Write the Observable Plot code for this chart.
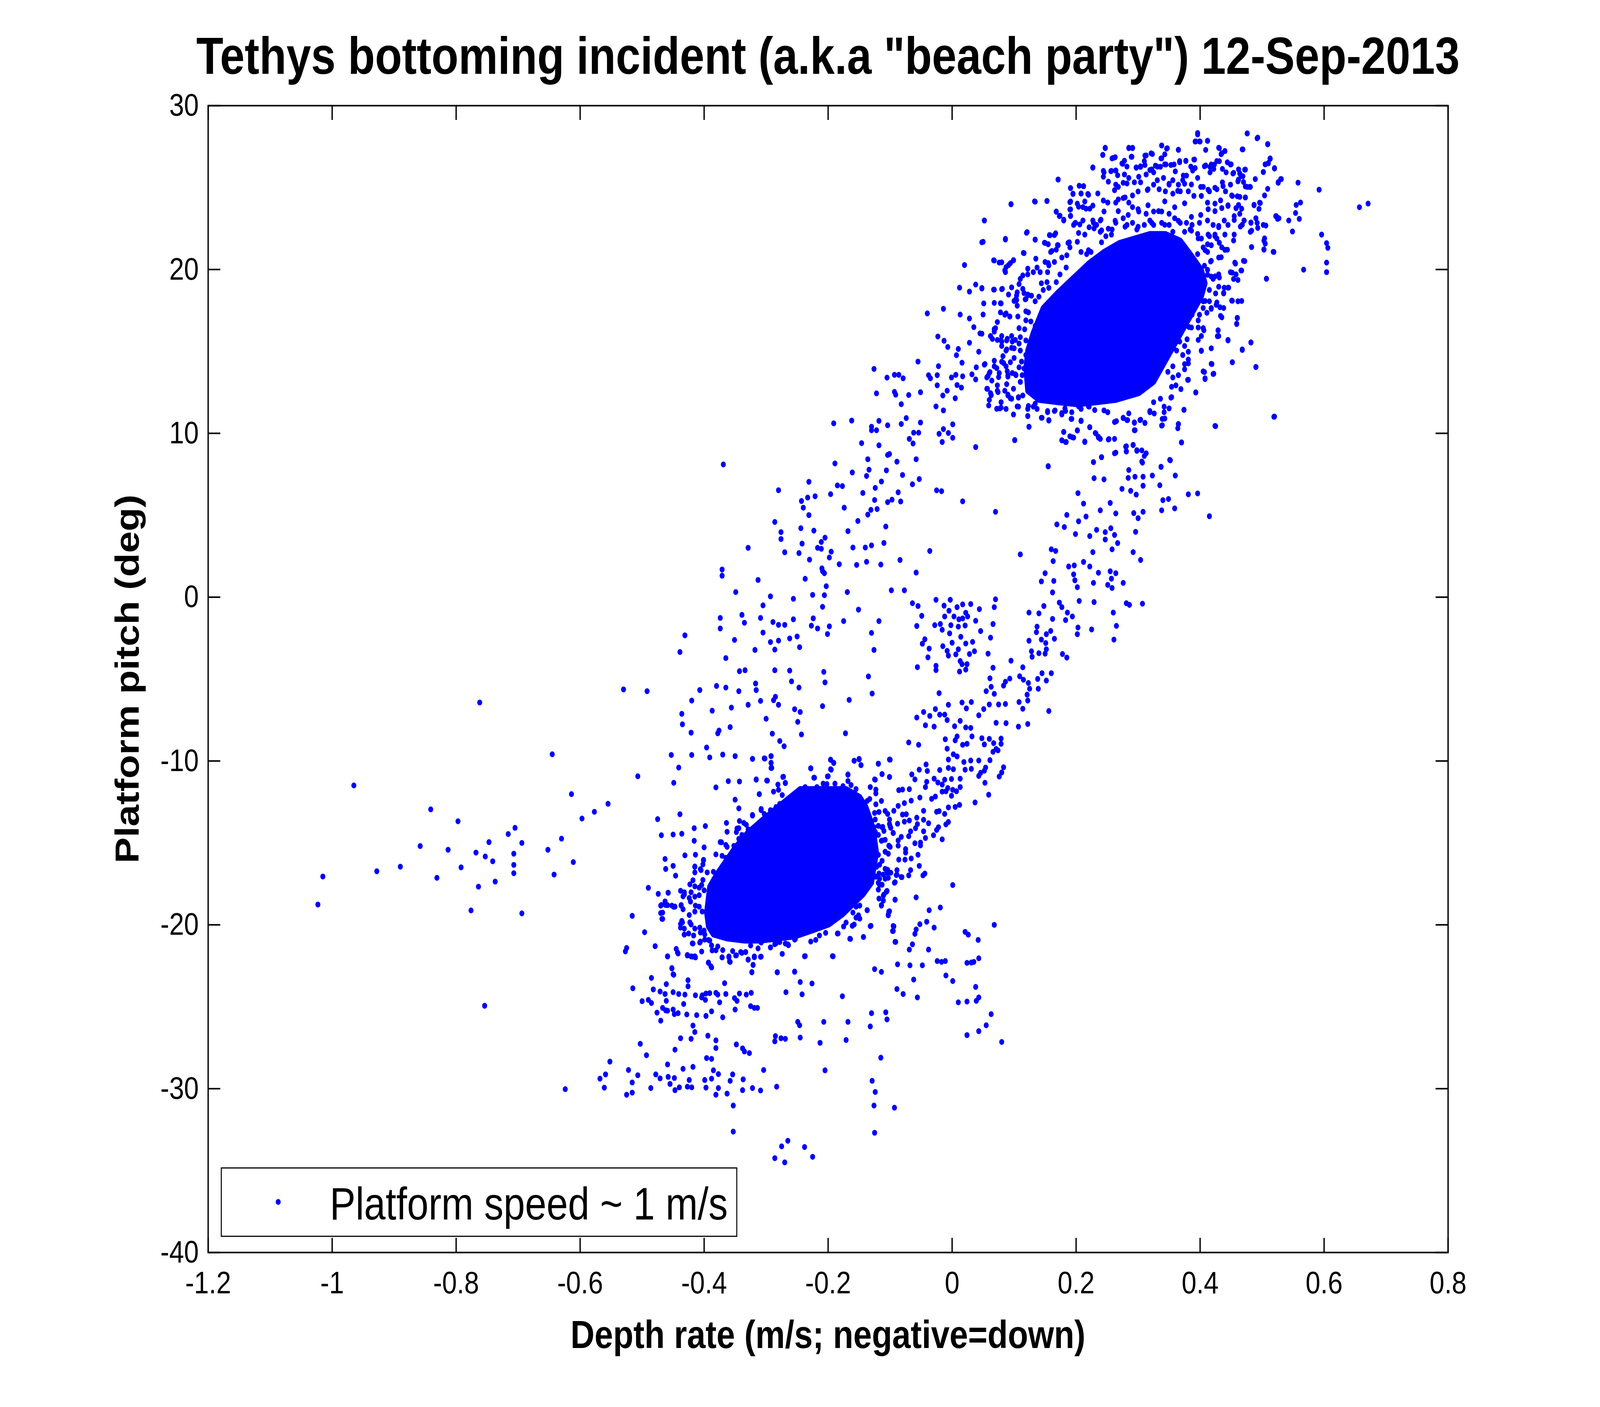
<!DOCTYPE html>
<html>
<head>
<meta charset="utf-8">
<script src="https://cdn.jsdelivr.net/npm/d3@7"></script>
<script src="https://cdn.jsdelivr.net/npm/@observablehq/plot@0.6"></script>
<style>
html, body { margin: 0; padding: 0; background: #ffffff; overflow: hidden; width: 100vw; height: 100vh; }
#chart { width: 100vw; height: 100vh; }
#chart svg { display: block; width: 100vw !important; height: 100vh !important; max-width: none !important; }
</style>
</head>
<body>
<div id="chart"></div>
<script>
// ---------- labels ----------
const titleText = 'Tethys bottoming incident (a.k.a "beach party") 12-Sep-2013';
const xLabel = "Depth rate (m/s; negative=down)";
const yLabel = "Platform pitch (deg)";
const legendLabel = "Platform speed ~ 1 m/s";

// ---------- axes ----------
const xTicks = [-1.2, -1, -0.8, -0.6, -0.4, -0.2, 0, 0.2, 0.4, 0.6, 0.8];
const yTicks = [-40, -30, -20, -10, 0, 10, 20, 30];

// ---------- dense cores (outline of the solid blobs) ----------
const lowCore = [[-0.245,-11.71],[-0.199,-11.83],[-0.171,-11.71],[-0.149,-12.20],[-0.139,-12.81],[-0.130,-13.78],[-0.125,-14.75],[-0.122,-15.60],[-0.128,-16.82],[-0.130,-17.43],[-0.144,-18.16],[-0.158,-18.65],[-0.177,-19.37],[-0.199,-19.98],[-0.226,-20.35],[-0.254,-20.71],[-0.281,-20.83],[-0.308,-20.96],[-0.336,-20.96],[-0.363,-20.83],[-0.385,-20.59],[-0.393,-20.10],[-0.396,-19.25],[-0.393,-18.40],[-0.391,-17.67],[-0.380,-16.94],[-0.363,-16.09],[-0.349,-15.24],[-0.330,-14.39],[-0.308,-13.66],[-0.286,-13.05],[-0.265,-12.32]];
const highCore = [[0.140,16.97],[0.147,17.65],[0.171,18.61],[0.196,19.43],[0.221,20.39],[0.245,21.07],[0.270,21.62],[0.294,21.89],[0.319,22.17],[0.344,22.17],[0.368,21.76],[0.387,20.80],[0.402,19.98],[0.408,19.16],[0.402,18.34],[0.387,17.65],[0.372,16.97],[0.350,16.15],[0.341,15.33],[0.338,14.23],[0.325,13.14],[0.301,12.45],[0.264,12.04],[0.233,11.90],[0.202,11.77],[0.171,11.90],[0.140,12.04],[0.122,12.59],[0.119,13.96],[0.122,15.05],[0.131,16.15]];

// ---------- scattered samples ----------
const farLeft = [[-0.965,-11.49],[-0.841,-12.95],[-0.797,-13.68],[-0.858,-15.19],[-0.813,-15.42],[-0.768,-15.59],[-0.890,-16.45],[-0.928,-16.73],[-0.792,-16.49],[-1.015,-17.05],[-0.831,-17.13],[-0.764,-17.67],[-1.023,-18.76],[-0.776,-19.12],[-0.762,-6.43]];

const lowerTop = [[-0.343,-4.52],[-0.334,-4.46],[-0.286,-4.46],[-0.262,-4.48],[-0.207,-4.56],[-0.135,-4.84],[-0.530,-5.63],[-0.492,-5.74],[-0.407,-5.67],[-0.380,-5.42],[-0.365,-5.52],[-0.344,-5.74],[-0.317,-5.27],[-0.316,-5.67],[-0.247,-5.52],[-0.259,-5.14],[-0.205,-5.20],[-0.129,-5.88],[-0.166,-6.27],[-0.309,-6.33],[-0.285,-6.08],[-0.288,-6.29],[-0.280,-6.57],[-0.329,-6.57],[-0.420,-6.31],[-0.387,-6.93],[-0.356,-6.74],[-0.254,-6.84],[-0.245,-7.01],[-0.209,-6.65],[-0.300,-7.42],[-0.436,-7.12],[-0.435,-7.76],[-0.358,-7.93],[-0.249,-7.61],[-0.421,-8.27],[-0.378,-8.31],[-0.376,-8.14],[-0.290,-8.33],[-0.243,-8.38],[-0.172,-8.31],[-0.278,-8.78],[-0.271,-9.10],[-0.396,-9.18],[-0.645,-9.59],[-0.453,-9.63],[-0.420,-9.63],[-0.391,-9.78],[-0.370,-9.61],[-0.350,-9.70],[-0.322,-9.87],[-0.303,-9.84],[-0.292,-9.70],[-0.292,-10.12],[-0.291,-10.42],[-0.441,-10.40],[-0.196,-9.93],[-0.191,-10.12],[-0.158,-9.99],[-0.150,-9.87],[-0.147,-10.25],[-0.119,-10.16],[-0.101,-9.91],[-0.228,-10.44],[-0.196,-10.50],[-0.113,-10.80],[-0.101,-10.97],[-0.507,-10.93],[-0.449,-11.33],[-0.361,-11.23],[-0.343,-11.25],[-0.316,-11.12],[-0.299,-11.19],[-0.381,-11.61],[-0.273,-10.97],[-0.269,-11.33],[-0.223,-11.02],[-0.200,-10.93],[-0.168,-10.82],[-0.125,-11.12],[-0.311,-12.02],[-0.308,-13.0],[-0.322,-13.29],[-0.332,-13.89],[-0.344,-14.10],[-0.363,-14.32]];

const lowerRight = [[-0.056,-4.27],[-0.036,-7.25],[-0.043,-7.82],[-0.046,-7.01],[-0.057,-7.35],[0.032,-8.50],[0.060,-8.65],[0.067,-8.91],[0.048,-8.61],[0.052,-8.99],[0.079,-8.63],[0.079,-8.95],[0.071,-9.27],[0.066,-9.44],[0.074,-9.35],[-0.011,-8.67],[0.008,-8.50],[0.005,-8.74],[0.017,-9.01],[0.024,-8.95],[-0.008,-9.25],[0.002,-9.59],[0.008,-9.72],[0.019,-10.06],[0.030,-9.97],[0.043,-9.97],[0.061,-9.95],[0.083,-10.38],[0.080,-10.70],[0.076,-10.95],[0.053,-11.33],[0.059,-12.06],[0.037,-12.53],[0.054,-10.40],[0.052,-10.59],[0.046,-10.72],[0.043,-10.91],[0.031,-10.48],[0.021,-10.53],[-0.006,-10.42],[0.002,-10.50],[-0.006,-9.91],[-0.020,-10.55],[-0.029,-11.08],[-0.023,-11.31],[-0.016,-11.44],[-0.012,-11.14],[-0.001,-11.10],[0.013,-11.08],[0.013,-11.59],[-0.007,-11.65],[-0.010,-11.85],[0.001,-11.76],[0.007,-11.85],[-0.001,-12.12],[-0.006,-12.83],[0.005,-12.80],[0.012,-12.68],[-0.016,-11.87],[-0.027,-12.17],[-0.040,-10.61],[-0.042,-10.21],[-0.053,-10.53],[-0.065,-10.82],[-0.060,-11.12],[-0.069,-11.72],[-0.041,-11.27],[-0.043,-11.59],[-0.033,-12.31],[-0.021,-13.06],[-0.025,-13.10],[-0.012,-13.23],[-0.052,-12.23],[-0.066,-12.42],[-0.077,-12.57],[-0.080,-11.74],[-0.086,-11.78],[-0.070,-8.87],[-0.054,-9.01],[-0.087,-12.74],[-0.094,-13.04],[-0.080,-13.27],[-0.074,-13.25],[-0.101,-13.57],[-0.088,-13.83],[-0.077,-13.70],[-0.069,-13.63],[-0.057,-13.46],[-0.046,-13.04],[-0.046,-13.59],[-0.038,-13.80],[-0.056,-13.85],[-0.059,-14.10],[-0.046,-14.29],[-0.022,-14.04],[-0.010,-13.87],[-0.006,-13.72],[-0.025,-14.21],[-0.030,-14.53],[-0.016,-14.78],[-0.043,-14.70],[-0.051,-14.98],[-0.051,-15.15],[-0.060,-15.02],[-0.067,-14.29],[-0.070,-14.59],[-0.082,-14.63],[-0.087,-14.85],[-0.095,-14.40],[-0.100,-13.99],[-0.110,-14.27],[-0.113,-14.04],[-0.126,-14.04],[-0.124,-14.32],[-0.113,-14.85],[-0.102,-15.17],[-0.087,-15.17],[-0.075,-15.38],[-0.075,-15.59],[-0.086,-16.02],[-0.076,-16.02],[-0.066,-15.95],[-0.055,-15.72],[-0.053,-16.40],[-0.067,-16.66],[-0.070,-16.98],[-0.082,-17.08],[-0.090,-16.96],[-0.092,-17.40],[-0.111,-16.93],[-0.105,-16.83],[-0.103,-17.13],[-0.118,-16.87],[-0.117,-17.55],[-0.110,-18.15],[-0.118,-18.40],[-0.114,-18.79],[-0.105,-17.93],[-0.101,-19.17],[-0.103,-19.42],[-0.092,-18.47],[-0.089,-16.66],[-0.044,-16.87],[-0.047,-16.98],[0.001,-17.57],[-0.058,-18.32],[-0.037,-19.11],[-0.019,-18.94],[0.068,-20.00],[-0.052,-19.96],[-0.041,-19.81],[-0.029,-20.17],[-0.058,-20.28],[-0.060,-20.55],[-0.094,-20.09],[-0.096,-20.38],[-0.092,-21.04],[-0.064,-21.19],[-0.069,-21.51],[-0.038,-21.51],[0.021,-20.43],[0.026,-20.60],[0.042,-20.92],[0.043,-22.04],[-0.024,-22.21],[-0.017,-22.26],[-0.011,-22.21],[0.024,-22.32],[0.031,-22.30],[0.035,-22.26],[-0.010,-23.09],[0.001,-23.43],[0.038,-23.79],[-0.088,-22.41],[-0.068,-22.47],[-0.048,-22.47],[-0.062,-23.34],[-0.089,-23.92],[-0.079,-24.22],[-0.056,-24.43],[-0.125,-22.70],[-0.114,-22.87],[-0.131,-20.06],[-0.137,-19.11],[-0.143,-20.74],[-0.165,-20.85],[-0.177,-24.36],[0.010,-24.73],[0.024,-24.68],[0.039,-24.64],[0.043,-24.43],[0.063,-25.45],[0.080,-27.15],[0.055,-26.13],[0.043,-26.49],[0.024,-26.73],[-0.130,-25.39],[-0.132,-26.20],[-0.107,-25.34],[-0.105,-25.77],[-0.115,-28.11],[-0.129,-29.52],[-0.124,-30.20],[-0.126,-31.03],[-0.093,-31.16],[-0.125,-32.69],[-0.168,-25.92],[-0.171,-27.03],[-0.205,-28.88],[-0.213,-27.20],[-0.207,-25.92],[-0.249,-25.92],[-0.246,-26.13],[-0.245,-26.88],[-0.226,-23.58],[-0.245,-23.49],[-0.242,-24.24],[-0.254,-22.85],[-0.268,-24.11],[-0.282,-22.90],[-0.238,-21.92],[-0.192,-21.92],[-0.285,-26.79],[-0.286,-27.11],[-0.276,-26.92],[-0.269,-26.96],[-0.283,-29.88],[-0.304,-28.86],[-0.353,-31.03],[-0.353,-32.62],[-0.286,-34.24],[-0.275,-33.52],[-0.265,-33.18],[-0.270,-34.50],[-0.238,-33.56],[-0.225,-34.16],[-0.274,-21.77],[-0.220,-20.92],[-0.204,-20.49],[-0.184,-20.53],[-0.161,-20.06],[-0.151,-19.42]];

const lowerFan = [[-0.747,-14.95],[-0.716,-14.46],[-0.705,-14.08],[-0.694,-15.00],[-0.707,-15.66],[-0.707,-16.34],[-0.707,-16.85],[-0.741,-16.12],[-0.753,-15.83],[-0.737,-17.36],[-0.694,-19.30],[-0.652,-15.42],[-0.630,-14.74],[-0.642,-16.93],[-0.611,-16.17],[-0.614,-12.02],[-0.597,-13.51],[-0.577,-13.10],[-0.555,-12.61],[-0.754,-24.94],[-0.475,-13.55],[-0.469,-14.53],[-0.450,-14.49],[-0.436,-14.44],[-0.439,-13.25],[-0.463,-15.98],[-0.462,-16.59],[-0.450,-16.40],[-0.446,-17.0],[-0.431,-15.76],[-0.414,-15.72],[-0.416,-14.10],[-0.398,-13.97],[-0.416,-14.87],[-0.400,-15.27],[-0.415,-16.44],[-0.405,-16.66],[-0.401,-16.06],[-0.381,-15.70],[-0.374,-14.95],[-0.364,-13.78],[-0.350,-12.36],[-0.344,-12.89],[-0.490,-17.74],[-0.474,-18.11],[-0.458,-18.04],[-0.469,-18.79],[-0.462,-18.79],[-0.452,-18.83],[-0.447,-18.89],[-0.467,-19.25],[-0.467,-19.64],[-0.516,-19.45],[-0.496,-20.45],[-0.479,-21.30],[-0.525,-21.41],[-0.527,-21.62],[-0.437,-18.79],[-0.432,-18.15],[-0.424,-18.36],[-0.435,-19.85],[-0.438,-20.17],[-0.432,-20.60],[-0.423,-19.85],[-0.419,-21.13],[-0.406,-21.02],[-0.393,-20.92],[-0.381,-21.55],[-0.371,-21.98],[-0.360,-21.98],[-0.359,-22.24],[-0.349,-21.87],[-0.341,-21.66],[-0.333,-21.66],[-0.329,-22.13],[-0.321,-22.45],[-0.323,-22.90],[-0.319,-21.98],[-0.308,-21.94],[-0.293,-21.38],[-0.284,-21.13],[-0.265,-21.19],[-0.253,-20.87],[-0.443,-21.68],[-0.459,-21.92],[-0.427,-21.87],[-0.419,-21.94],[-0.415,-21.92],[-0.393,-22.32],[-0.389,-22.53],[-0.452,-22.64],[-0.450,-23.02],[-0.485,-23.24],[-0.515,-23.87],[-0.461,-23.62],[-0.463,-24.22],[-0.450,-24.11],[-0.441,-24.22],[-0.431,-24.26],[-0.426,-23.75],[-0.426,-23.38],[-0.482,-23.94],[-0.471,-24.07],[-0.367,-23.56],[-0.343,-24.19],[-0.332,-24.26],[-0.324,-24.15],[-0.414,-24.30],[-0.403,-24.30],[-0.397,-24.19],[-0.391,-24.17],[-0.381,-24.15],[-0.378,-24.26],[-0.365,-24.22],[-0.351,-24.47],[-0.347,-24.64],[-0.398,-24.58],[-0.375,-24.73],[-0.404,-24.43],[-0.500,-24.66],[-0.490,-24.58],[-0.485,-24.77],[-0.476,-25.36],[-0.461,-24.64],[-0.467,-25.07],[-0.462,-25.22],[-0.459,-25.24],[-0.450,-25.17],[-0.448,-25.45],[-0.428,-25.47],[-0.433,-24.83],[-0.412,-25.51],[-0.397,-25.56],[-0.388,-25.28],[-0.370,-25.64],[-0.350,-25.17],[-0.325,-24.96],[-0.319,-25.07],[-0.314,-25.07],[-0.470,-25.85],[-0.442,-25.39],[-0.418,-26.15],[-0.415,-26.54],[-0.438,-26.92],[-0.421,-26.96],[-0.394,-26.77],[-0.381,-27.05],[-0.381,-27.52],[-0.348,-27.30],[-0.338,-27.54],[-0.335,-27.73],[-0.327,-27.83],[-0.396,-28.13],[-0.388,-28.18],[-0.503,-27.26],[-0.493,-27.96],[-0.447,-27.62],[-0.459,-28.52],[-0.434,-28.79],[-0.418,-28.67],[-0.552,-28.35],[-0.522,-28.86],[-0.559,-29.13],[-0.568,-29.39],[-0.561,-29.94],[-0.507,-29.18],[-0.516,-29.62],[-0.516,-30.24],[-0.525,-30.37],[-0.478,-29.13],[-0.471,-29.37],[-0.458,-29.28],[-0.448,-29.35],[-0.455,-29.71],[-0.447,-30.09],[-0.440,-29.92],[-0.427,-29.88],[-0.424,-29.47],[-0.420,-29.92],[-0.486,-29.96],[-0.399,-29.47],[-0.397,-29.94],[-0.388,-29.39],[-0.385,-28.88],[-0.377,-29.11],[-0.377,-29.96],[-0.381,-30.37],[-0.363,-30.30],[-0.358,-29.52],[-0.354,-29.13],[-0.337,-29.43],[-0.338,-30.09],[-0.322,-29.96],[-0.309,-30.11],[-0.624,-30.03]];

const lowFringe = [[-0.196,-9.92],[-0.191,-10.11],[-0.195,-10.53],[-0.201,-10.94],[-0.222,-11.02],[-0.228,-10.45],[-0.158,-9.98],[-0.150,-9.90],[-0.147,-10.25],[-0.168,-10.84],[-0.168,-11.22],[-0.208,-11.38],[-0.202,-11.41],[-0.189,-11.38],[-0.176,-11.53],[-0.163,-11.47],[-0.155,-11.71],[-0.132,-11.59],[-0.123,-11.75],[-0.123,-11.98],[-0.124,-11.14],[-0.119,-10.17],[-0.113,-10.80],[-0.101,-10.98],[-0.100,-9.92],[-0.237,-11.59],[-0.218,-11.59],[-0.272,-10.96],[-0.269,-11.35],[-0.281,-11.44],[-0.280,-11.76],[-0.288,-11.87],[-0.274,-12.08],[-0.311,-12.02],[-0.298,-11.20],[-0.316,-11.14],[-0.292,-9.70],[-0.292,-10.11],[-0.292,-10.43],[-0.302,-9.85],[-0.322,-9.87],[-0.278,-12.62],[-0.284,-12.81],[-0.293,-13.00],[-0.284,-13.38],[-0.308,-12.93],[-0.303,-13.23],[-0.322,-13.33],[-0.343,-13.66],[-0.336,-13.78],[-0.329,-14.17],[-0.323,-14.28],[-0.347,-14.12],[-0.348,-14.34],[-0.339,-14.51],[-0.344,-14.75],[-0.352,-15.18],[-0.363,-15.24],[-0.372,-14.96],[-0.365,-15.12],[-0.371,-15.79],[-0.365,-15.91],[-0.354,-15.54],[-0.370,-16.39],[-0.373,-16.88],[-0.385,-16.76],[-0.395,-16.80],[-0.401,-16.03],[-0.402,-16.31],[-0.406,-16.60],[-0.415,-16.46],[-0.415,-16.80],[-0.402,-17.26],[-0.418,-17.28],[-0.423,-17.53],[-0.415,-17.65],[-0.408,-17.73],[-0.404,-17.57],[-0.400,-17.89],[-0.408,-18.19],[-0.415,-18.28],[-0.421,-18.01],[-0.438,-17.92],[-0.432,-18.01],[-0.434,-18.26],[-0.458,-18.04],[-0.463,-18.57],[-0.470,-18.83],[-0.459,-18.80],[-0.449,-18.90],[-0.437,-18.83],[-0.434,-19.05],[-0.422,-18.58],[-0.414,-18.83],[-0.408,-18.89],[-0.403,-19.19],[-0.424,-19.40],[-0.415,-19.19],[-0.470,-19.28],[-0.468,-19.64],[-0.436,-19.76],[-0.438,-19.95],[-0.432,-20.23],[-0.432,-20.59],[-0.425,-20.53],[-0.421,-19.98],[-0.415,-20.23],[-0.407,-20.17],[-0.406,-20.47],[-0.400,-20.35],[-0.399,-20.59],[-0.417,-20.65],[-0.418,-21.14],[-0.407,-21.08],[-0.399,-20.90],[-0.391,-20.96],[-0.388,-21.26],[-0.378,-21.32],[-0.387,-21.56],[-0.370,-21.54],[-0.371,-21.99],[-0.360,-21.93],[-0.358,-22.26],[-0.354,-21.60],[-0.348,-21.86],[-0.339,-21.71],[-0.333,-21.66],[-0.329,-22.11],[-0.321,-22.44],[-0.323,-22.88],[-0.319,-21.93],[-0.309,-21.95],[-0.313,-21.44],[-0.325,-21.26],[-0.308,-21.08],[-0.293,-21.38],[-0.286,-21.18],[-0.278,-21.05],[-0.269,-21.14],[-0.264,-21.24],[-0.254,-20.90],[-0.237,-21.91],[-0.228,-21.02],[-0.214,-20.65],[-0.185,-20.53],[-0.164,-20.86],[-0.143,-20.74],[-0.132,-20.08],[-0.158,-19.98],[-0.171,-19.86],[-0.175,-20.10],[-0.149,-19.62],[-0.155,-19.56],[-0.137,-19.10],[-0.160,-19.25],[-0.155,-18.89],[-0.149,-18.83],[-0.393,-22.30],[-0.388,-22.60],[-0.404,-21.63],[-0.427,-21.84],[-0.421,-21.93],[-0.414,-21.99],[-0.445,-21.47],[-0.442,-21.75],[-0.459,-21.93],[-0.452,-22.66],[-0.449,-23.05],[-0.193,-21.91],[-0.254,-22.87],[-0.282,-22.89],[-0.114,-12.44],[-0.123,-12.64],[-0.133,-12.32],[-0.137,-12.44],[-0.118,-13.11],[-0.108,-13.05],[-0.104,-13.23],[-0.125,-13.17],[-0.124,-13.57],[-0.119,-13.96],[-0.112,-14.02],[-0.101,-13.84],[-0.099,-14.08],[-0.095,-14.39],[-0.119,-14.51],[-0.114,-14.87],[-0.108,-14.81],[-0.100,-15.24],[-0.103,-15.66],[-0.108,-15.54],[-0.119,-15.73],[-0.113,-16.09],[-0.117,-16.33],[-0.122,-16.46],[-0.108,-16.58],[-0.104,-16.64],[-0.099,-16.82],[-0.108,-17.19],[-0.117,-17.19],[-0.113,-17.55],[-0.119,-17.85],[-0.106,-17.98],[-0.111,-18.22],[-0.111,-18.52],[-0.114,-18.83],[-0.119,-17.43],[-0.123,-17.06],[-0.102,-19.19],[-0.103,-19.37],[-0.092,-18.46],[-0.089,-16.94],[-0.093,-17.43],[-0.081,-17.09],[-0.095,-20.07],[-0.095,-20.37],[-0.091,-21.04]];

const midBand = [[-0.369,8.10],[-0.280,6.53],[-0.286,4.59],[-0.276,3.97],[-0.276,3.55],[-0.270,2.74],[-0.329,3.01],[-0.371,1.69],[-0.371,1.31],[-0.313,1.05],[-0.349,0.31],[-0.293,0.05],[-0.305,-0.50],[-0.374,-1.27],[-0.374,-1.91],[-0.339,-1.08],[-0.335,-1.56],[-0.309,-1.27],[-0.289,-1.52],[-0.280,-1.69],[-0.270,-1.69],[-0.256,-1.35],[-0.305,-2.16],[-0.351,-2.61],[-0.431,-2.33],[-0.439,-3.35],[-0.365,-3.72],[-0.318,-3.22],[-0.293,-2.74],[-0.280,-2.65],[-0.286,-3.20],[-0.262,-2.52],[-0.250,-2.40],[-0.246,-3.05],[-0.231,7.04],[-0.233,6.08],[-0.243,5.87],[-0.240,5.46],[-0.221,6.16],[-0.231,5.01],[-0.244,4.21],[-0.223,4.06],[-0.242,3.27],[-0.247,2.69],[-0.230,2.29],[-0.217,3.01],[-0.211,2.95],[-0.211,3.37],[-0.205,3.63],[-0.195,2.78],[-0.198,2.42],[-0.210,1.76],[-0.209,1.59],[-0.206,1.46],[-0.237,1.12],[-0.203,0.67],[-0.225,0.14],[-0.206,0.12],[-0.209,-0.59],[-0.196,6.29],[-0.185,6.82],[-0.177,6.78],[-0.174,5.46],[-0.168,4.03],[-0.152,4.65],[-0.160,3.03],[-0.182,2.01],[-0.169,0.31],[-0.151,-0.76],[-0.175,-1.46],[-0.198,-1.78],[-0.201,-2.25],[-0.217,-1.91],[-0.224,-1.29],[-0.227,-1.74],[-0.256,-0.10],[-0.191,10.61],[-0.162,10.78],[-0.189,8.16],[-0.161,7.61],[-0.146,9.40],[-0.144,6.36],[-0.138,7.40],[-0.134,7.78],[-0.136,8.42],[-0.130,10.40],[-0.130,10.19],[-0.122,10.19],[-0.118,10.76],[-0.104,10.49],[-0.118,9.27],[-0.104,8.68],[-0.101,8.74],[-0.089,8.27],[-0.106,7.74],[-0.114,7.06],[-0.124,6.67],[-0.125,5.93],[-0.131,5.33],[-0.136,5.04],[-0.121,5.38],[-0.104,5.80],[-0.097,5.95],[-0.087,6.40],[-0.083,5.84],[-0.080,7.46],[-0.107,4.31],[-0.110,3.31],[-0.130,3.16],[-0.140,3.03],[-0.138,2.16],[-0.154,1.97],[-0.115,1.99],[-0.084,2.27],[-0.098,0.42],[-0.077,0.42],[-0.118,-1.46],[-0.130,-2.18],[-0.126,-3.22],[-0.126,13.93],[-0.122,12.44],[-0.105,13.40],[-0.093,13.57],[-0.086,13.57],[-0.079,13.36],[-0.093,12.53],[-0.091,12.36],[-0.082,11.78],[-0.070,12.34],[-0.074,10.93],[-0.082,10.57],[-0.069,9.66],[-0.063,9.38],[-0.062,10.04],[-0.054,10.04],[-0.051,10.66],[-0.058,8.42],[-0.053,7.21],[-0.064,6.89],[-0.055,14.38],[-0.051,12.51],[-0.040,17.32],[-0.038,13.55],[-0.035,13.36],[-0.036,2.82],[-0.058,1.50],[-0.064,-0.37],[-0.055,-0.54],[-0.049,-1.14],[-0.057,-1.76],[-0.044,-2.57],[-0.048,-2.84],[-0.037,-3.14],[-0.039,-3.67]];

const upperTop = [[0.396,28.24],[0.476,28.31],[0.493,28.05],[0.509,27.66],[0.412,27.85],[0.392,27.81],[0.400,27.81],[0.338,27.57],[0.346,27.38],[0.365,27.31],[0.430,27.43],[0.440,27.23],[0.434,27.04],[0.468,27.33],[0.247,27.43],[0.243,27.00],[0.285,27.43],[0.291,27.43],[0.289,26.88],[0.260,26.81],[0.311,26.95],[0.321,27.09],[0.338,26.78],[0.367,26.62],[0.390,26.71],[0.377,26.62],[0.227,26.23],[0.244,26.02],[0.257,26.02],[0.264,26.04],[0.274,26.47],[0.282,26.28],[0.297,26.23],[0.304,26.26],[0.311,26.38],[0.322,26.11],[0.331,26.28],[0.343,26.42],[0.353,26.38],[0.360,25.99],[0.373,25.73],[0.385,26.28],[0.392,26.19],[0.409,26.35],[0.416,26.26],[0.423,26.40],[0.431,26.61],[0.444,26.54],[0.450,26.42],[0.454,25.90],[0.462,26.11],[0.472,26.09],[0.466,25.71],[0.513,26.78],[0.510,26.50],[0.505,26.42],[0.520,26.19],[0.531,25.52],[0.526,25.33],[0.558,25.30],[0.592,24.87],[0.657,23.80],[0.671,24.02],[0.502,25.95],[0.489,25.52],[0.480,25.04],[0.473,25.07],[0.462,25.49],[0.171,25.49],[0.191,24.97],[0.195,24.61],[0.208,24.64],[0.212,25.09],[0.219,24.61],[0.235,24.64],[0.244,24.21],[0.251,24.09],[0.268,24.28],[0.279,24.40],[0.291,24.52],[0.300,24.76],[0.315,24.85],[0.334,24.90],[0.350,25.23],[0.364,24.80],[0.375,25.23],[0.386,25.19],[0.401,25.04],[0.413,24.87],[0.424,24.99],[0.437,25.09],[0.451,24.52],[0.460,24.47],[0.473,24.40],[0.509,24.92],[0.504,24.52],[0.497,24.06],[0.487,23.92],[0.462,23.94],[0.458,23.75],[0.445,23.92],[0.435,23.75],[0.424,23.56],[0.413,23.68],[0.401,23.33],[0.386,23.21],[0.095,23.99],[0.133,24.16],[0.153,24.18],[0.190,24.11],[0.190,23.66],[0.191,23.28],[0.204,23.83],[0.216,23.71],[0.222,23.71],[0.227,23.90],[0.168,23.52],[0.174,23.28],[0.180,23.04],[0.198,22.82],[0.206,22.75],[0.204,22.23],[0.214,22.13],[0.228,22.85],[0.229,22.51],[0.240,23.04],[0.241,22.39],[0.252,22.49],[0.263,22.97],[0.523,23.25],[0.525,23.09],[0.549,22.32],[0.543,22.99],[0.554,23.45],[0.562,24.09],[0.555,23.94],[0.560,23.09],[0.596,22.13],[0.604,21.61],[0.606,21.32],[0.604,20.42],[0.604,19.84],[0.567,19.99],[0.490,23.13],[0.482,22.87],[0.471,22.99],[0.483,22.37],[0.493,22.54],[0.506,22.68],[0.504,21.90],[0.505,21.58],[0.518,21.08],[0.503,21.23],[0.483,21.37],[0.468,22.73],[0.455,22.13],[0.454,21.77],[0.440,22.13],[0.430,22.66],[0.424,22.13],[0.052,22.99],[0.048,21.66],[0.086,21.87],[0.121,22.28],[0.115,21.01],[0.134,21.82],[0.149,21.63],[0.155,21.54],[0.158,22.09],[0.167,22.21],[0.161,21.13],[0.170,21.49],[0.189,21.66],[0.185,20.87],[0.268,23.56],[0.284,23.33],[0.300,23.68],[0.316,23.92],[0.333,23.56],[0.343,24.16],[0.359,23.80],[0.375,24.04],[0.300,22.61],[0.322,22.85],[0.343,22.73],[0.365,22.97],[0.279,22.61],[0.257,22.13],[0.241,21.66],[0.220,21.18],[0.386,22.37],[0.397,21.90],[0.413,22.13]];

const highFringe = [[0.247,27.41],[0.243,26.99],[0.285,27.41],[0.291,27.41],[0.290,26.88],[0.258,26.78],[0.263,26.85],[0.275,26.45],[0.278,26.64],[0.227,26.21],[0.245,25.93],[0.244,25.66],[0.252,25.36],[0.256,26.00],[0.264,26.04],[0.267,25.75],[0.278,25.80],[0.285,25.59],[0.276,25.29],[0.282,25.25],[0.264,25.18],[0.262,24.84],[0.268,25.04],[0.297,26.21],[0.304,26.30],[0.310,26.62],[0.313,26.96],[0.323,27.05],[0.338,27.57],[0.347,27.40],[0.343,27.03],[0.337,26.78],[0.328,26.34],[0.336,26.27],[0.345,26.41],[0.319,26.07],[0.325,25.93],[0.313,25.80],[0.301,25.66],[0.294,25.32],[0.304,25.32],[0.365,27.30],[0.358,26.41],[0.367,26.55],[0.377,26.64],[0.391,26.71],[0.388,26.04],[0.396,28.33],[0.393,27.82],[0.399,27.82],[0.412,27.86],[0.409,27.30],[0.431,27.41],[0.435,27.10],[0.440,27.23],[0.407,26.30],[0.418,26.41],[0.427,26.62],[0.422,26.14],[0.416,25.93],[0.436,26.14],[0.442,25.93],[0.449,26.41],[0.453,25.86],[0.464,25.86],[0.469,25.69],[0.473,26.10],[0.461,25.38],[0.470,25.34],[0.476,25.04],[0.481,25.04],[0.436,25.32],[0.449,25.18],[0.441,24.77],[0.427,24.90],[0.415,24.77],[0.405,25.04],[0.396,25.59],[0.378,25.73],[0.372,25.45],[0.365,25.18],[0.356,25.45],[0.350,25.18],[0.341,25.59],[0.331,25.45],[0.325,25.18],[0.316,24.90],[0.344,24.77],[0.356,24.63],[0.368,24.77],[0.381,24.77],[0.390,24.49],[0.402,24.49],[0.412,24.08],[0.424,24.02],[0.433,24.22],[0.445,23.88],[0.452,24.49],[0.464,24.43],[0.473,24.40],[0.467,23.71],[0.458,23.74],[0.455,23.26],[0.455,23.02],[0.464,23.40],[0.471,22.99],[0.465,22.62],[0.482,22.85],[0.492,22.85],[0.496,24.08],[0.487,23.95],[0.495,23.70],[0.502,22.72],[0.503,21.76],[0.503,21.21],[0.483,21.37],[0.481,22.30],[0.445,22.72],[0.439,22.99],[0.430,22.58],[0.421,22.72],[0.412,22.99],[0.399,22.85],[0.387,22.72],[0.378,22.85],[0.368,22.85],[0.359,23.13],[0.350,23.40],[0.338,23.54],[0.325,23.54],[0.313,23.40],[0.301,23.54],[0.291,23.81],[0.285,24.08],[0.276,24.36],[0.264,24.08],[0.251,24.08],[0.245,23.54],[0.239,22.99],[0.233,22.72],[0.227,22.99],[0.221,22.58],[0.239,22.30],[0.248,22.03],[0.258,22.44],[0.264,22.85],[0.276,23.13],[0.282,22.72],[0.291,22.85],[0.298,22.44],[0.310,22.72],[0.319,22.99],[0.325,22.72],[0.338,22.85],[0.350,22.72],[0.356,22.30],[0.375,22.30],[0.384,22.44],[0.396,22.17],[0.402,21.89],[0.415,22.03],[0.427,21.89],[0.435,21.35],[0.444,21.21],[0.418,21.48],[0.405,21.35],[0.396,20.94],[0.418,20.53],[0.430,20.73],[0.412,21.07],[0.205,25.11],[0.212,25.08],[0.195,24.63],[0.191,24.97],[0.208,24.63],[0.220,24.56],[0.214,24.15],[0.202,24.02],[0.211,23.81],[0.191,24.15],[0.191,23.67],[0.191,23.26],[0.199,22.85],[0.211,22.99],[0.196,22.72],[0.171,25.49],[0.168,23.54],[0.173,23.26],[0.180,22.99],[0.168,19.23],[0.174,19.70],[0.165,20.46],[0.177,20.73],[0.184,20.12],[0.187,21.62],[0.190,21.35],[0.202,21.69],[0.208,21.07],[0.217,20.94],[0.224,21.07],[0.159,21.07],[0.168,21.21],[0.171,21.48],[0.165,22.10],[0.157,22.10],[0.150,21.62],[0.134,21.83],[0.156,20.25],[0.150,20.46],[0.142,19.84],[0.131,19.84],[0.137,20.12],[0.122,20.05],[0.114,19.64],[0.110,19.43],[0.122,19.70],[0.144,19.16],[0.153,19.23],[0.156,18.88],[0.147,18.75],[0.140,18.34],[0.134,18.06],[0.128,18.40],[0.122,18.47],[0.119,18.20],[0.114,18.82],[0.105,18.61],[0.103,18.20],[0.091,18.47],[0.079,17.93],[0.081,18.82],[0.068,18.77],[0.051,17.93],[0.048,18.84],[0.052,22.99],[0.050,21.69],[0.086,21.83],[0.095,23.98],[0.134,24.14],[0.153,24.18],[0.120,22.24],[0.116,21.00],[0.135,20.66],[0.154,19.84],[0.155,20.39],[0.068,20.55],[0.076,20.42],[0.087,20.14],[0.094,20.39],[0.099,20.57],[0.086,19.84],[0.078,17.38],[0.085,17.24],[0.093,17.13],[0.105,17.79],[0.104,18.13],[0.106,17.13],[0.119,17.45],[0.123,17.38],[0.119,16.90],[0.127,16.83],[0.134,16.56],[0.073,16.79],[0.070,16.42],[0.068,16.21],[0.062,15.94],[0.065,15.76],[0.080,15.94],[0.079,15.67],[0.088,15.67],[0.096,15.94],[0.080,15.33],[0.087,15.05],[0.082,14.71],[0.097,15.60],[0.100,15.19],[0.110,15.87],[0.119,15.67],[0.110,15.05],[0.119,14.78],[0.108,16.42],[0.117,16.35],[0.048,16.08],[0.053,14.23],[0.060,13.68],[0.056,13.41],[0.068,14.43],[0.068,14.09],[0.076,13.68],[0.080,14.37],[0.087,14.09],[0.090,13.55],[0.097,13.68],[0.103,13.55],[0.110,13.14],[0.116,13.96],[0.113,13.55],[0.057,12.72],[0.062,12.45],[0.060,12.04],[0.059,11.70],[0.073,12.93],[0.074,12.52],[0.079,11.90],[0.077,11.52],[0.087,11.49],[0.088,13.00],[0.090,12.31],[0.096,12.11],[0.099,12.72],[0.099,11.15],[0.107,11.63],[0.107,12.18],[0.114,12.31],[0.122,11.49],[0.122,11.06],[0.124,10.40],[0.131,11.63],[0.137,11.49],[0.144,10.95],[0.156,10.81],[0.154,11.36],[0.165,11.36],[0.177,11.15],[0.183,11.36],[0.193,10.88],[0.208,10.75],[0.208,11.49],[0.221,11.63],[0.230,11.42],[0.251,11.29],[0.265,10.74],[0.276,10.95],[0.282,10.81],[0.285,11.22],[0.294,10.67],[0.303,10.81],[0.311,10.63],[0.294,10.19],[0.319,11.29],[0.325,11.90],[0.336,12.11],[0.342,11.63],[0.342,11.29],[0.339,10.88],[0.339,10.49],[0.353,12.18],[0.361,12.93],[0.369,12.70],[0.365,13.55],[0.356,13.41],[0.348,13.75],[0.381,13.27],[0.393,12.49],[0.405,13.78],[0.408,13.31],[0.422,13.64],[0.419,14.23],[0.381,14.50],[0.375,14.23],[0.356,14.09],[0.372,14.78],[0.362,15.05],[0.344,14.50],[0.375,15.33],[0.367,15.60],[0.356,15.74],[0.402,15.05],[0.418,15.19],[0.430,15.94],[0.429,16.28],[0.405,16.42],[0.402,15.94],[0.382,16.49],[0.379,15.74],[0.375,16.76],[0.365,16.69],[0.356,16.42],[0.387,17.24],[0.399,17.24],[0.405,17.65],[0.418,17.65],[0.433,17.17],[0.438,17.65],[0.427,17.99],[0.415,18.06],[0.405,18.06],[0.415,18.75],[0.425,18.54],[0.430,18.95],[0.438,18.54],[0.445,18.89],[0.421,19.43],[0.430,19.70],[0.412,19.98],[0.418,19.57],[0.449,19.84],[0.458,19.70],[0.461,19.36],[0.457,20.36],[0.467,19.94],[0.470,20.53],[0.461,18.06],[0.452,18.09],[0.460,17.04],[0.459,16.69],[0.445,15.67],[0.482,15.54],[0.468,15.09],[0.452,14.34],[0.490,14.05],[0.507,19.43],[0.519,21.07],[0.522,23.26],[0.527,23.13],[0.526,25.29],[0.530,25.52],[0.510,26.48],[0.513,26.75],[0.520,26.16],[0.509,27.64],[0.492,28.01],[0.476,28.30],[0.502,25.95],[0.469,27.33],[0.519,11.01],[0.425,10.44],[0.374,11.44],[0.365,10.56],[0.370,9.44],[0.352,8.35],[0.337,7.96],[0.307,8.21],[0.310,8.62],[0.306,8.96],[0.298,8.93],[0.292,9.30],[0.281,9.21],[0.281,8.89],[0.264,8.82],[0.253,9.65],[0.241,8.55],[0.228,8.25],[0.236,9.74],[0.232,9.99],[0.222,10.37],[0.214,9.47],[0.202,10.19],[0.196,9.74],[0.190,9.82],[0.184,9.47],[0.177,9.58],[0.180,10.08],[0.155,7.98],[0.101,9.58]];

const upperLeft = [[0.020,20.27],[0.067,20.56],[0.080,20.44],[0.085,19.94],[0.091,20.27],[0.099,20.56],[0.012,18.89],[0.028,18.65],[0.038,19.08],[0.048,18.87],[0.067,18.77],[0.080,18.80],[0.096,18.91],[0.108,19.11],[-0.014,17.60],[0.013,17.25],[0.028,17.01],[0.050,17.25],[0.068,17.96],[0.078,17.94],[0.087,17.32],[0.093,17.13],[0.100,18.08],[0.104,18.41],[0.116,18.56],[0.118,18.18],[0.123,18.44],[0.035,16.48],[0.045,16.10],[0.062,15.93],[0.028,15.53],[-0.023,15.91],[-0.013,15.65],[-0.007,15.27],[0.007,14.77],[0.010,15.15],[0.016,14.31],[0.043,14.98],[0.052,14.19],[0.039,14.03],[0.032,13.60],[0.038,13.29],[0.017,13.48],[0.006,13.57],[-0.001,13.41],[-0.022,14.10],[-0.024,13.55],[-0.024,12.93],[-0.008,12.60],[0.008,12.95],[0.015,12.79],[0.005,12.14],[-0.015,12.31],[-0.026,11.64],[-0.014,11.40],[0.068,16.36],[0.073,15.70],[0.080,15.60],[0.089,15.77],[0.088,15.12],[0.096,15.22],[0.102,15.70],[0.108,15.48],[0.100,14.60],[0.094,14.34],[0.083,14.29],[0.072,13.98],[0.061,13.74],[0.058,13.50],[0.064,13.22],[0.075,13.43],[0.089,13.79],[0.090,13.46],[0.102,13.60],[0.108,14.03],[0.112,14.38],[0.056,12.72],[0.063,12.33],[0.073,12.60],[0.085,12.60],[0.090,12.36],[0.072,11.50],[0.079,11.57],[0.094,12.14],[0.107,12.21],[0.105,11.64],[0.123,11.67],[0.122,11.05],[0.124,10.40],[0.101,9.59],[0.038,9.16],[-0.021,9.97],[-0.016,9.47],[-0.014,10.26],[-0.006,10.02],[0.001,10.55],[0.001,9.73]];

const upperRim = [[0.134,11.81],[0.145,10.95],[0.156,10.78],[0.154,11.29],[0.166,11.40],[0.177,11.24],[0.182,11.52],[0.193,11.29],[0.192,10.88],[0.204,11.64],[0.208,10.78],[0.222,10.38],[0.220,11.64],[0.231,10.02],[0.236,9.79],[0.245,11.40],[0.252,9.62],[0.251,11.29],[0.262,10.69],[0.266,12.24],[0.276,10.93],[0.283,10.81],[0.295,10.19],[0.294,10.64],[0.304,10.83],[0.311,10.64],[0.319,11.36],[0.326,11.21],[0.338,10.47],[0.343,10.90],[0.350,11.52],[0.354,12.21],[0.364,10.31],[0.365,10.57],[0.370,9.45],[0.374,11.43],[0.393,12.50],[0.424,10.45],[0.520,11.02],[0.177,9.57],[0.183,9.47],[0.180,10.09],[0.194,9.76],[0.202,10.17],[0.214,9.50],[0.155,8.00],[0.381,14.98],[0.397,15.70],[0.402,15.03],[0.381,14.27],[0.375,13.91],[0.365,13.55],[0.354,12.84],[0.380,13.26],[0.407,13.74],[0.408,13.36],[0.421,13.62],[0.418,14.24],[0.428,15.93],[0.429,16.29],[0.445,15.70],[0.452,14.34],[0.468,15.12],[0.482,15.55],[0.490,14.05],[0.459,16.67],[0.460,17.05],[0.467,18.08],[0.451,18.10],[0.435,17.08],[0.432,17.70],[0.426,17.84],[0.438,18.58],[0.446,18.89],[0.452,19.80],[0.456,20.42],[0.472,20.51],[0.466,19.94],[0.454,19.42],[0.439,18.89],[0.431,19.51],[0.424,19.58],[0.412,19.68],[0.407,20.23],[0.417,20.49],[0.434,20.75],[0.440,21.20],[0.431,21.63],[0.424,22.04],[0.412,21.54],[0.408,21.18],[0.402,18.89],[0.408,18.08],[0.411,17.36],[0.418,17.60],[0.397,16.89],[0.397,16.46],[0.386,16.46],[0.406,16.29],[0.507,19.44]];

const upperBranch = [[0.239,9.66],[0.245,7.19],[0.229,7.26],[0.228,8.24],[0.241,8.54],[0.262,8.78],[0.262,9.66],[0.280,9.19],[0.281,8.90],[0.292,9.28],[0.298,8.97],[0.306,8.28],[0.313,8.78],[0.285,7.76],[0.284,7.28],[0.295,7.35],[0.308,7.35],[0.308,6.80],[0.323,7.42],[0.337,7.95],[0.351,8.38],[0.360,7.42],[0.335,6.83],[0.297,6.26],[0.288,6.49],[0.274,6.61],[0.255,5.75],[0.264,5.11],[0.239,5.30],[0.216,4.92],[0.212,5.71],[0.203,6.35],[0.204,4.63],[0.199,3.85],[0.185,5.02],[0.181,4.28],[0.169,4.44],[0.227,2.75],[0.233,4.11],[0.247,3.97],[0.256,4.21],[0.262,3.80],[0.247,3.52],[0.258,2.92],[0.267,3.30],[0.292,2.75],[0.304,2.27],[0.308,5.21],[0.300,4.82],[0.293,5.13],[0.296,3.99],[0.340,5.92],[0.349,5.99],[0.359,5.42],[0.338,5.30],[0.381,6.28],[0.396,6.33],[0.415,4.94],[0.222,3.73],[0.212,2.15],[0.222,1.87],[0.197,1.94],[0.188,1.87],[0.196,1.39],[0.198,1.03],[0.202,0.61],[0.205,-0.23],[0.228,0.87],[0.236,1.49],[0.255,1.58],[0.264,1.46],[0.257,1.13],[0.251,0.75],[0.258,0.56],[0.276,0.87],[0.281,-0.37],[0.286,-0.47],[0.307,-0.40],[0.229,-0.30],[0.160,2.92],[0.167,2.82],[0.163,2.20],[0.150,1.46],[0.144,0.96],[0.164,0.99],[0.162,0.29],[0.173,-0.33],[0.177,-0.61],[0.186,-0.94],[0.194,-1.18],[0.183,-1.40],[0.162,-1.33],[0.203,-1.85],[0.202,-2.26],[0.225,-1.97],[0.260,-0.94],[0.265,-1.75],[0.261,-2.59],[0.110,2.61],[0.070,5.21],[0.017,5.85],[-0.025,6.52],[-0.017,6.47],[0.124,-0.94],[0.140,-0.99],[0.148,-0.54],[0.137,-1.80],[0.124,-2.66],[0.136,-2.14],[0.144,-2.59],[0.152,-2.26],[0.159,-2.06],[0.165,-2.54],[0.151,-2.80],[0.152,-3.18],[0.128,-3.30],[0.129,-3.64],[0.140,-3.42],[0.150,-3.45],[0.178,-3.47],[0.185,-3.69],[0.095,-3.88],[0.066,-4.31],[0.061,-4.95],[0.063,-5.47],[0.068,-5.90],[0.083,-5.40],[0.086,-5.16],[0.093,-4.97],[0.109,-4.83],[0.115,-5.04],[0.123,-5.24],[0.125,-5.59],[0.121,-5.95],[0.138,-4.99],[0.139,-5.59],[0.145,-4.64],[0.152,-5.09],[0.160,-4.64],[0.114,-4.28],[0.108,-6.40],[0.122,-6.31],[0.114,-6.81],[0.086,-6.52],[0.075,-6.55],[0.060,-6.55],[0.055,-5.74],[0.043,-7.21],[0.016,-6.43],[0.031,-6.40],[0.023,-6.79],[0.051,-6.83],[0.071,-7.67],[0.087,-7.69],[0.107,-7.90],[0.122,-7.74],[0.156,-6.95],[0.022,-7.95],[0.030,-7.98],[0.004,-7.88],[0.013,-7.55],[-0.006,-6.57],[-0.021,-5.86],[-0.027,-6.83],[-0.020,-7.17],[-0.012,-7.17],[-0.008,-7.50],[-0.029,-7.90]];

const centerPatch = [[-0.026,-0.16],[-0.003,-0.16],[-0.013,-0.52],[-0.005,-0.83],[0.008,-0.61],[0.017,-0.44],[0.030,-0.42],[0.044,-0.73],[0.022,-0.95],[0.025,-1.18],[0.017,-1.30],[0.011,-1.35],[0.003,-1.18],[-0.012,-1.18],[-0.019,-1.64],[-0.028,-1.71],[-0.016,-1.99],[-0.002,-1.71],[0.010,-1.80],[0.021,-1.73],[0.038,-1.44],[0.046,-2.07],[0.066,-1.64],[0.070,-0.13],[0.068,-0.61],[0.062,-2.47],[0.033,-2.73],[0.022,-2.83],[0.000,-2.78],[-0.015,-2.99],[-0.004,-2.21],[0.014,-2.42],[0.010,-3.18],[0.006,-3.49],[-0.006,-3.57],[-0.008,-3.28],[0.013,-3.90],[0.016,-4.09],[0.024,-4.09],[0.022,-4.42],[0.028,-3.47],[0.036,-3.30],[0.058,-3.45],[-0.026,-4.19],[-0.026,-4.45],[0.012,-4.54]];

// ---------- layout (pixels of the 4808x3602 design, stretched to the window) ----------
const W = 4808, H = 3602;
const mL = 625, mR = 457, mT = 270, mB = 396;
const innerW = W - mL - mR, innerH = H - mT - mB;
const tickLen = 37;
const blue = "#0000ff";

const points = [].concat(farLeft, lowerTop, lowerRight, lowerFan, lowFringe, midBand, upperTop, highFringe, upperLeft, upperRim, upperBranch, centerPatch);
const px = d => d[0], py = d => d[1];
const fmt = d => String(d);
const ff = "'Liberation Sans', Arial, Helvetica, sans-serif";

const svg = Plot.plot({
  width: W,
  height: H,
  marginLeft: mL,
  marginRight: mR,
  marginTop: mT,
  marginBottom: mB,
  style: {fontFamily: ff, fontSize: "80px", background: "#ffffff", color: "#000000"},
  x: {domain: [-1.2, 0.8], label: null},
  y: {domain: [-40, 30], label: null},
  marks: [
    Plot.hull(lowCore, {x: px, y: py, fill: blue, stroke: blue, strokeWidth: 15, strokeLinejoin: "round"}),
    Plot.hull(highCore, {x: px, y: py, fill: blue, stroke: blue, strokeWidth: 15, strokeLinejoin: "round"}),
    Plot.dot(points, {x: px, y: py, r: 7.5, fill: blue, stroke: "none"}),
    Plot.ruleX(xTicks, {stroke: "#000", strokeWidth: 4, insetTop: innerH - tickLen}),
    Plot.ruleX(xTicks, {stroke: "#000", strokeWidth: 4, insetBottom: innerH - tickLen}),
    Plot.ruleY(yTicks, {stroke: "#000", strokeWidth: 4, insetRight: innerW - tickLen}),
    Plot.ruleY(yTicks, {stroke: "#000", strokeWidth: 4, insetLeft: innerW - tickLen}),
    Plot.frame({stroke: "#000", strokeWidth: 4}),
    Plot.axisX(xTicks, {anchor: "bottom", tickSize: 0, tickPadding: 48, tickFormat: fmt, label: null, fontSize: 80}),
    Plot.axisY(yTicks, {anchor: "left", tickSize: 0, tickPadding: 28, tickFormat: fmt, label: null, fontSize: 80})
  ]
});

const s = d3.select(svg);
const cx = mL + innerW / 2;

s.append("text").attr("x", cx).attr("y", 189)
  .attr("text-anchor", "middle").attr("font-family", ff).attr("font-size", 133)
  .attr("font-weight", "bold").attr("fill", "#000").text(titleText);

s.append("text").attr("x", cx).attr("y", 3451)
  .attr("text-anchor", "middle").attr("font-family", ff).attr("font-size", 100)
  .attr("font-weight", "bold").attr("fill", "#000").text(xLabel);

s.append("text").attr("transform", `translate(417,${mT + innerH / 2}) rotate(-90)`)
  .attr("text-anchor", "middle").attr("font-family", ff).attr("font-size", 100)
  .attr("font-weight", "bold").attr("fill", "#000").text(yLabel);

// legend box
const lg = s.append("g");
lg.append("rect").attr("x", 665).attr("y", 2990).attr("width", 1549).attr("height", 175)
  .attr("fill", "#ffffff").attr("stroke", "#000").attr("stroke-width", 3);
lg.append("circle").attr("cx", 836).attr("cy", 3077).attr("r", 7.5).attr("fill", blue);
lg.append("text").attr("x", 991).attr("y", 3122).attr("text-anchor", "start")
  .attr("font-family", ff).attr("font-size", 116).attr("fill", "#000").text(legendLabel);

svg.setAttribute("viewBox", `0 0 ${W} ${H}`);
svg.setAttribute("preserveAspectRatio", "none");
svg.removeAttribute("width");
svg.removeAttribute("height");
document.getElementById("chart").appendChild(svg);
</script>
</body>
</html>
